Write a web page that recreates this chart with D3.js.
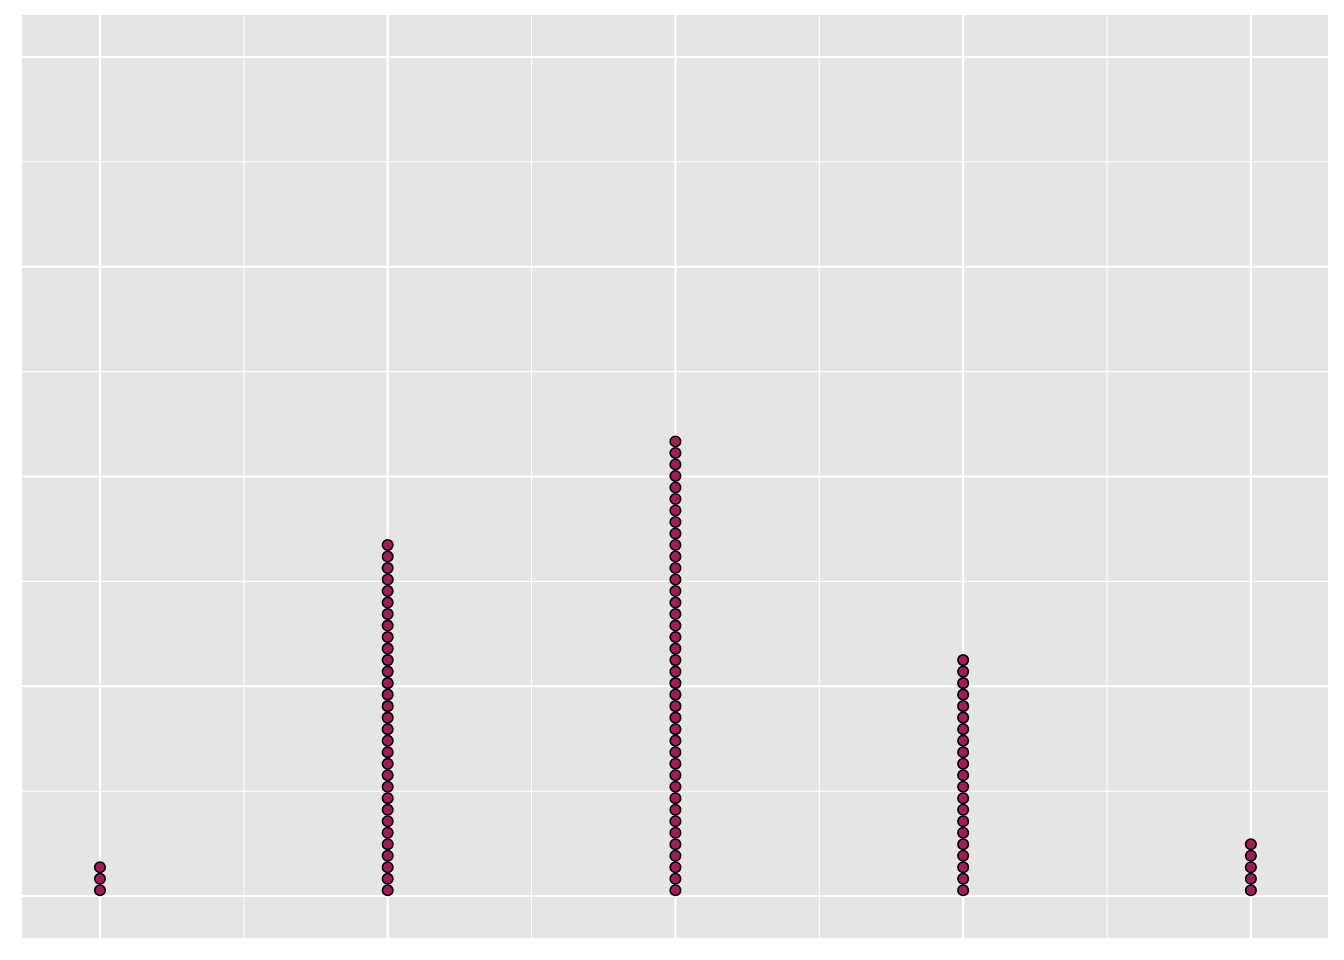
<!DOCTYPE html>
<html>
<head>
<meta charset="utf-8">
<script src="https://cdn.jsdelivr.net/npm/d3@7"></script>
<style>
  body { margin: 0; background: #fff; }
  svg { display: block; }
</style>
</head>
<body>
<div id="chart"></div>
<script>
// Data: value on x, number of stacked dots at that value
const xValues = [0, 1, 2, 3, 4];
const dotCounts = [3, 31, 40, 21, 5];

const xMajorTicks = [0, 1, 2, 3, 4];
const xMinorTicks = [0.5, 1.5, 2.5, 3.5];
const yMajorTicks = [0, 0.25, 0.5, 0.75, 1];
const yMinorTicks = [0.125, 0.375, 0.625, 0.875];

const binwidth = 0.04;

const CONFIG = {
  width: 1344,
  height: 960,
  margin: { top: 15, right: 16, bottom: 22, left: 22 },
  panelFill: '#E5E5E5',
  dotFill: '#9E1F55'
};

const innerW = CONFIG.width - CONFIG.margin.left - CONFIG.margin.right;
const innerH = CONFIG.height - CONFIG.margin.top - CONFIG.margin.bottom;

const svg = d3.select('#chart').append('svg')
  .attr('width', CONFIG.width)
  .attr('height', CONFIG.height);

const x = d3.scaleLinear()
  .domain([-0.271, 4.268])
  .range([0, innerW]);

const y = d3.scaleLinear()
  .domain([-0.05, 1.05])
  .range([innerH, 0]);

const chart = svg.append('g')
  .attr('transform', `translate(${CONFIG.margin.left}, ${CONFIG.margin.top})`);

chart.append('rect')
  .attr('width', innerW)
  .attr('height', innerH)
  .attr('fill', CONFIG.panelFill);

// minor grid
chart.selectAll('.xminor')
  .data(xMinorTicks)
  .join('line')
  .attr('x1', d => x(d)).attr('x2', d => x(d))
  .attr('y1', 0).attr('y2', innerH)
  .attr('stroke', '#fff').attr('stroke-width', 1.05);

chart.selectAll('.yminor')
  .data(yMinorTicks)
  .join('line')
  .attr('x1', 0).attr('x2', innerW)
  .attr('y1', d => y(d)).attr('y2', d => y(d))
  .attr('stroke', '#fff').attr('stroke-width', 1.05);

// major grid
chart.selectAll('.xmajor')
  .data(xMajorTicks)
  .join('line')
  .attr('x1', d => x(d)).attr('x2', d => x(d))
  .attr('y1', 0).attr('y2', innerH)
  .attr('stroke', '#fff').attr('stroke-width', 2.1);

chart.selectAll('.ymajor')
  .data(yMajorTicks)
  .join('line')
  .attr('x1', 0).attr('x2', innerW)
  .attr('y1', d => y(d)).attr('y2', d => y(d))
  .attr('stroke', '#fff').attr('stroke-width', 2.1);

// stacked dots
const dotD = x(binwidth) - x(0);
const dots = [];
xValues.forEach((v, i) => {
  for (let k = 0; k < dotCounts[i]; k++) dots.push({ value: v, stack: k });
});

chart.selectAll('.dot')
  .data(dots)
  .join('circle')
  .attr('class', 'dot')
  .attr('cx', d => x(d.value))
  .attr('cy', d => y(0) - dotD * (d.stack + 0.5))
  .attr('r', dotD / 2 - 0.5)
  .attr('fill', CONFIG.dotFill)
  .attr('stroke', '#000')
  .attr('stroke-width', 1.6);
</script>
</body>
</html>
